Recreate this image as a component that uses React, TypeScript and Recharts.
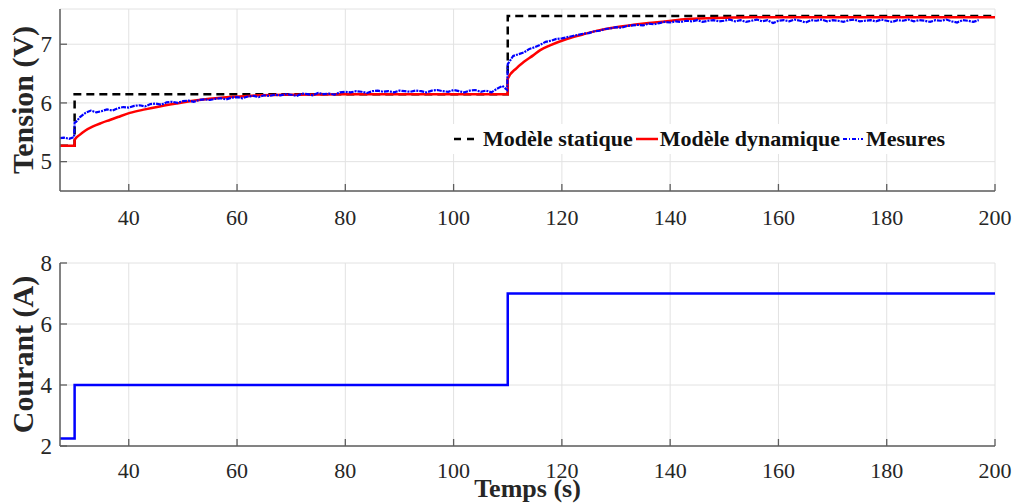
import { CartesianGrid, Label, Line, LineChart, XAxis, YAxis } from 'recharts';

const FONT = '"Liberation Serif", "Times New Roman", serif';
const AXIS_COLOR = '#5e5e5e';
const GRID_COLOR = '#e2e2e2';
const TEXT_COLOR = '#262626';
const TICK_LEN = 7;
const Y_MARGIN = 8;

const TIME_DOMAIN: [number, number] = [27.3, 200];
const TIME_TICKS = [40, 60, 80, 100, 120, 140, 160, 180, 200];
const TENSION_DOMAIN: [number, number] = [4.5, 7.6];
const TENSION_TICKS = [5, 6, 7];
const COURANT_DOMAIN: [number, number] = [2, 8];
const COURANT_TICKS = [2, 4, 6, 8];

// Modèle statique (V)
const statique: [number, number][] = [
  [27.3, 5.27], [30, 5.27], [30, 6.15], [110, 6.15], [110, 7.48], [200, 7.48],
];

// Modèle dynamique (V)
const dynamique: [number, number][] = [
  [27.3, 5.27], [30, 5.27], [30, 5.37], [31, 5.46], [32, 5.53], [33.4, 5.6], [35, 5.66],
  [36.5, 5.71], [38, 5.76], [40.2, 5.83], [43, 5.89], [45.7, 5.94], [48.8, 5.99],
  [53, 6.05], [57, 6.09], [62, 6.12], [70, 6.14], [80, 6.15], [110, 6.15],
  [110, 6.41], [111.6, 6.59], [113, 6.7], [114.7, 6.81], [116, 6.9], [117.8, 6.98],
  [120.9, 7.09], [124, 7.17], [127, 7.24], [130, 7.29], [133.2, 7.33], [136, 7.36],
  [139.4, 7.39], [142, 7.42], [145.5, 7.44], [150, 7.45], [154.8, 7.46], [200, 7.46],
];

// Mesures (V)
const mesures: [number, number][] = [
  [27.3, 5.4], [28, 5.41], [29, 5.39], [29.9, 5.42], [30, 5.66], [30.3, 5.68], [31, 5.76],
  [32, 5.83], [33, 5.87], [34, 5.84], [35, 5.86], [36, 5.89], [37, 5.87], [38, 5.91],
  [39, 5.93], [40, 5.92], [41, 5.95], [42, 5.96], [43, 5.94], [44, 5.98], [45, 5.99],
  [46, 5.97], [47, 6.01], [48, 6.02], [49, 6.0], [50, 6.03], [51, 6.04], [52, 6.02],
  [53, 6.05], [54, 6.06], [55, 6.05], [56, 6.07], [57, 6.08], [58, 6.06], [59, 6.09],
  [60, 6.1], [61, 6.08], [62, 6.11], [63, 6.12], [64, 6.1], [65, 6.13], [66, 6.12],
  [67, 6.14], [68, 6.13], [69, 6.15], [70, 6.14], [71, 6.12], [72, 6.16], [73, 6.15],
  [74, 6.13], [75, 6.17], [76, 6.15], [77, 6.16], [78, 6.14], [79, 6.18], [80, 6.19],
  [81, 6.18], [82, 6.2], [83, 6.19], [84, 6.17], [85, 6.2], [86, 6.21], [87, 6.19],
  [88, 6.2], [89, 6.18], [90, 6.21], [91, 6.2], [92, 6.19], [93, 6.21], [94, 6.2],
  [95, 6.18], [96, 6.21], [97, 6.22], [98, 6.2], [99, 6.19], [100, 6.22], [101, 6.2],
  [102, 6.18], [103, 6.21], [104, 6.22], [105, 6.19], [106, 6.21], [107, 6.18],
  [108, 6.24], [109, 6.29], [109.9, 6.22], [110, 6.66], [111, 6.8], [112, 6.83],
  [113, 6.86], [114, 6.92], [115, 6.95], [116, 6.99], [117, 7.04], [118, 7.06],
  [119, 7.09], [120, 7.1], [121, 7.12], [122, 7.14], [123, 7.16], [124, 7.18],
  [125, 7.19], [126, 7.22], [127, 7.23], [128, 7.26], [129, 7.27], [130, 7.29],
  [131, 7.28], [132, 7.31], [133, 7.32], [134, 7.33], [135, 7.32], [136, 7.35],
  [137, 7.34], [138, 7.36], [139, 7.38], [140, 7.37], [141, 7.39], [142, 7.38],
  [143, 7.4], [144, 7.39], [145, 7.41], [146, 7.38], [147, 7.4], [148, 7.41],
  [149, 7.39], [150, 7.4], [151, 7.42], [152, 7.39], [153, 7.41], [154, 7.38],
  [155, 7.4], [156, 7.42], [157, 7.39], [158, 7.41], [159, 7.36], [160, 7.4],
  [161, 7.41], [162, 7.39], [163, 7.42], [164, 7.4], [165, 7.37], [166, 7.41],
  [167, 7.4], [168, 7.42], [169, 7.39], [170, 7.41], [171, 7.4], [172, 7.38],
  [173, 7.41], [174, 7.42], [175, 7.39], [176, 7.4], [177, 7.41], [178, 7.39],
  [179, 7.42], [180, 7.4], [181, 7.38], [182, 7.41], [183, 7.4], [184, 7.42],
  [185, 7.39], [186, 7.41], [187, 7.4], [188, 7.38], [189, 7.41], [190, 7.4],
  [191, 7.42], [192, 7.39], [193, 7.37], [194, 7.41], [195, 7.4], [196, 7.38],
  [197, 7.41],
];

// Courant (A)
const courant: [number, number][] = [
  [27.3, 2.25], [30, 2.25], [30, 4], [110, 4], [110, 7], [200, 7],
];

const toRows = (pts: [number, number][]) => pts.map(([t, v]) => ({ t, v }));

// MATLAB-style ticks: short mark inside the box, label outside
const bottomTick = (gap: number) => (p: any) => {
  const axisY = p.y - gap;
  return (
    <g>
      <line x1={p.x} y1={axisY} x2={p.x} y2={axisY - TICK_LEN} stroke={AXIS_COLOR} strokeWidth={1.3} />
      <text x={p.x} y={p.y} dy="0.75em" textAnchor="middle" fontFamily={FONT} fontSize={22} fill={TEXT_COLOR}>
        {p.payload.value}
      </text>
    </g>
  );
};

const LeftTick = (p: any) => {
  const axisX = p.x + Y_MARGIN;
  return (
    <g>
      <line x1={axisX} y1={p.y} x2={axisX + TICK_LEN} y2={p.y} stroke={AXIS_COLOR} strokeWidth={1.3} />
      <text x={p.x} y={p.y} dy="0.34em" textAnchor="end" fontFamily={FONT} fontSize={23} fill={TEXT_COLOR}>
        {p.payload.value}
      </text>
    </g>
  );
};

const TopTick = (p: any) => (
  <line x1={p.x} y1={p.y} x2={p.x} y2={p.y + TICK_LEN} stroke={AXIS_COLOR} strokeWidth={1.3} />
);

const RightTick = (p: any) => (
  <line x1={p.x} y1={p.y} x2={p.x - TICK_LEN} y2={p.y} stroke={AXIS_COLOR} strokeWidth={1.3} />
);

function yLabel(text: string) {
  return ({ viewBox }: any) => {
    const cy = viewBox.y + viewBox.height / 2;
    return (
      <text
        x={33}
        y={cy}
        transform={`rotate(-90, 33, ${cy})`}
        textAnchor="middle"
        fontFamily={FONT}
        fontWeight="bold"
        fontSize={30}
        fill={TEXT_COLOR}
      >
        {text}
      </text>
    );
  };
}

function LegendBox() {
  const item = { display: 'flex', alignItems: 'center' } as const;
  return (
    <div
      style={{
        position: 'absolute',
        left: 448,
        top: 124,
        height: 30,
        padding: '0 4px',
        background: 'white',
        display: 'flex',
        alignItems: 'center',
        fontFamily: FONT,
        fontWeight: 'bold',
        fontSize: 22,
        color: '#111',
        whiteSpace: 'nowrap',
      }}
    >
      <div style={item}>
        <svg width={26} height={10}>
          <line x1={2} y1={5} x2={24} y2={5} stroke="#000" strokeWidth={2.5} strokeDasharray="7 6" />
        </svg>
        <span style={{ marginLeft: 5 }}>Modèle statique</span>
      </div>
      <div style={{ ...item, marginLeft: 2 }}>
        <svg width={24} height={10}>
          <line x1={1} y1={5} x2={23} y2={5} stroke="#ff0000" strokeWidth={2.5} />
        </svg>
        <span style={{ marginLeft: 1 }}>Modèle dynamique</span>
      </div>
      <div style={{ ...item, marginLeft: 2 }}>
        <svg width={22} height={10}>
          <line x1={1} y1={5} x2={21} y2={5} stroke="#0000ff" strokeWidth={2} strokeDasharray="4 2 1 2" />
        </svg>
        <span style={{ marginLeft: 2 }}>Mesures</span>
      </div>
    </div>
  );
}

function Axes({ yDomain, yTicks, xHeight, xGap, yLabelText, xLabel }: any) {
  return [
    <XAxis
      key="xb"
      xAxisId="b"
      type="number"
      dataKey="t"
      domain={TIME_DOMAIN}
      ticks={TIME_TICKS}
      allowDataOverflow
      interval={0}
      height={xHeight}
      tickSize={0}
      tickMargin={xGap}
      tickLine={false}
      stroke={AXIS_COLOR}
      strokeWidth={1.5}
      tick={bottomTick(xGap)}
    >
      {xLabel}
    </XAxis>,
    <XAxis
      key="xt"
      xAxisId="t"
      orientation="top"
      type="number"
      dataKey="t"
      domain={TIME_DOMAIN}
      ticks={TIME_TICKS}
      allowDataOverflow
      interval={0}
      height={0}
      tickSize={0}
      tickMargin={0}
      tickLine={false}
      stroke={AXIS_COLOR}
      strokeWidth={1.5}
      tick={TopTick}
    />,
    <YAxis
      key="yl"
      yAxisId="l"
      type="number"
      domain={yDomain}
      ticks={yTicks}
      allowDataOverflow
      interval={0}
      width={60}
      tickSize={0}
      tickMargin={Y_MARGIN}
      tickLine={false}
      stroke={AXIS_COLOR}
      strokeWidth={1.5}
      tick={LeftTick}
    >
      <Label content={yLabel(yLabelText)} />
    </YAxis>,
    <YAxis
      key="yr"
      yAxisId="r"
      orientation="right"
      type="number"
      domain={yDomain}
      ticks={yTicks}
      allowDataOverflow
      interval={0}
      width={0}
      tickSize={0}
      tickMargin={0}
      tickLine={false}
      stroke={AXIS_COLOR}
      strokeWidth={1.5}
      tick={RightTick}
    />,
  ];
}

function TensionChart() {
  return (
    <LineChart width={1016} height={240} margin={{ top: 9, right: 21, bottom: 0, left: 0 }} style={{ fontFamily: FONT }}>
      <CartesianGrid xAxisId="b" yAxisId="l" stroke={GRID_COLOR} />
      {Axes({ yDomain: TENSION_DOMAIN, yTicks: TENSION_TICKS, xHeight: 49, xGap: 17, yLabelText: 'Tension (V)' })}
      <Line xAxisId="b" yAxisId="l" data={toRows(statique)} dataKey="v" type="linear" stroke="#000000" strokeWidth={2.5} strokeDasharray="8 5" dot={false} isAnimationActive={false} />
      <Line xAxisId="b" yAxisId="l" data={toRows(dynamique)} dataKey="v" type="monotone" stroke="#ff0000" strokeWidth={2.5} dot={false} isAnimationActive={false} />
      <Line xAxisId="b" yAxisId="l" data={toRows(mesures)} dataKey="v" type="linear" stroke="#0000ff" strokeWidth={2.2} strokeDasharray="5 1 2 1" dot={false} isAnimationActive={false} />
    </LineChart>
  );
}

function CourantChart() {
  const tempsLabel = (
    <Label
      content={({ viewBox }: any) => (
        <text
          x={viewBox.x + viewBox.width / 2}
          y={viewBox.y + 51}
          textAnchor="middle"
          fontFamily={FONT}
          fontWeight="bold"
          fontSize={26}
          fill={TEXT_COLOR}
        >
          Temps (s)
        </text>
      )}
    />
  );
  return (
    <LineChart width={1016} height={264} margin={{ top: 23, right: 21, bottom: 0, left: 0 }} style={{ fontFamily: FONT }}>
      <CartesianGrid xAxisId="b" yAxisId="l" stroke={GRID_COLOR} />
      {Axes({ yDomain: COURANT_DOMAIN, yTicks: COURANT_TICKS, xHeight: 58, xGap: 15, yLabelText: 'Courant (A)', xLabel: tempsLabel })}
      <Line xAxisId="b" yAxisId="l" data={toRows(courant)} dataKey="v" type="linear" stroke="#0000ff" strokeWidth={2.5} dot={false} isAnimationActive={false} />
    </LineChart>
  );
}

export default function App() {
  return (
    <div style={{ position: 'absolute', left: 0, top: 0, width: 1016, height: 504, background: 'white', overflow: 'hidden', fontFamily: FONT }}>
      <div style={{ position: 'absolute', left: 0, top: 0 }}>
        <TensionChart />
      </div>
      <LegendBox />
      <div style={{ position: 'absolute', left: 0, top: 240 }}>
        <CourantChart />
      </div>
    </div>
  );
}
